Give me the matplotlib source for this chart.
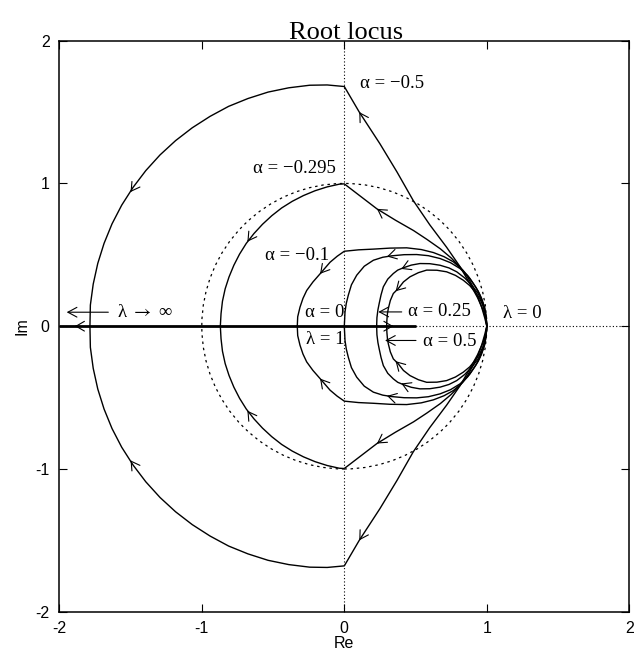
import matplotlib
matplotlib.use("Agg")
import matplotlib.pyplot as plt
from matplotlib.patches import Circle

plt.rcParams["mathtext.fontset"] = "stix"

# ---------------- data (upper half of each locus; lower half is its mirror) -------------
alpha_m05_x = [-1.785, -1.782, -1.762, -1.73, -1.686, -1.63, -1.562, -1.482, -1.393, -1.293, -1.184, -1.067,
               -0.942, -0.812, -0.676, -0.535, -0.39, -0.243, -0.12, 0.0,
               0.105, 0.25, 0.37, 0.484, 0.60, 0.718, 0.81, 0.882, 0.935, 0.975, 0.993, 1.0]
alpha_m05_y = [0.0, 0.148, 0.295, 0.44, 0.58, 0.717, 0.848, 0.973, 1.09, 1.2, 1.3, 1.39,
               1.47, 1.54, 1.595, 1.64, 1.67, 1.688, 1.69, 1.679,
               1.50, 1.278, 1.08, 0.88, 0.71, 0.553, 0.42, 0.297, 0.20, 0.11, 0.05, 0.0]

alpha_m0295_x = [-0.87, -0.865, -0.855, -0.836, -0.809, -0.775, -0.735, -0.688, -0.634, -0.574, -0.509,
                 -0.44, -0.365, -0.287, -0.205, -0.12, -0.035, 0.0,
                 0.229, 0.36, 0.486, 0.58, 0.674, 0.75, 0.814, 0.865, 0.905, 0.94, 0.964, 0.985, 1.0]
alpha_m0295_y = [0.0, 0.088, 0.175, 0.262, 0.345, 0.427, 0.505, 0.58, 0.649, 0.714, 0.774,
                 0.828, 0.875, 0.915, 0.949, 0.976, 0.995, 0.997,
                 0.822, 0.742, 0.670, 0.608, 0.542, 0.478, 0.413, 0.345, 0.273, 0.2, 0.133, 0.06, 0.0]

alpha_m01_x = [-0.33, -0.327, -0.311, -0.29, -0.264, -0.22, -0.17, -0.1, -0.05, 0.0,
               0.1, 0.204, 0.32, 0.438, 0.54, 0.625, 0.70, 0.765, 0.83, 0.882, 0.925, 0.952, 0.975,
               0.987, 0.996, 1.0]
alpha_m01_y = [0.0, 0.066, 0.133, 0.195, 0.25, 0.31, 0.367, 0.448, 0.49, 0.525,
               0.535, 0.54, 0.547, 0.549, 0.537, 0.516, 0.487, 0.451, 0.395, 0.334, 0.27, 0.217, 0.155,
               0.10, 0.05, 0.0]

alpha_0_x = [0.0, 0.005, 0.014, 0.028, 0.05, 0.087, 0.14, 0.204, 0.27, 0.333, 0.42, 0.508, 0.59,
             0.672, 0.745, 0.812, 0.865, 0.905, 0.94, 0.964, 0.983, 0.994, 1.0]
alpha_0_y = [0.0, 0.10, 0.16, 0.217, 0.29, 0.357, 0.42, 0.462, 0.483, 0.493, 0.501, 0.502, 0.494,
             0.474, 0.445, 0.404, 0.355, 0.299, 0.245, 0.194, 0.135, 0.077, 0.0]

alpha_025_x = [0.227, 0.229, 0.236, 0.245, 0.258, 0.274, 0.305, 0.344, 0.375, 0.414, 0.47, 0.531, 0.60,
               0.672, 0.735, 0.789, 0.845, 0.894, 0.935, 0.964, 0.985, 0.996, 1.0]
alpha_025_y = [0.0, 0.06, 0.115, 0.16, 0.22, 0.276, 0.33, 0.369, 0.393, 0.409, 0.428, 0.439, 0.438,
               0.427, 0.408, 0.381, 0.338, 0.287, 0.235, 0.182, 0.13, 0.06, 0.0]

alpha_05_x = [0.297, 0.299, 0.303, 0.309, 0.323, 0.344, 0.379, 0.415, 0.461, 0.52, 0.578, 0.65,
              0.718, 0.78, 0.835, 0.88, 0.917, 0.95, 0.971, 0.985, 0.996, 1.0]
alpha_05_y = [0.0, 0.045, 0.09, 0.124, 0.18, 0.229, 0.264, 0.31, 0.346, 0.375, 0.393, 0.392,
              0.381, 0.356, 0.322, 0.285, 0.241, 0.195, 0.147, 0.1, 0.05, 0.0]

loci = [(alpha_m05_x, alpha_m05_y), (alpha_m0295_x, alpha_m0295_y), (alpha_m01_x, alpha_m01_y),
        (alpha_0_x, alpha_0_y), (alpha_025_x, alpha_025_y), (alpha_05_x, alpha_05_y)]

# real-axis part of the locus
real_axis_x = [-2.0, 0.5]
real_axis_y = [0.0, 0.0]

unit_circle_radius = 1.0

# direction arrows on the upper-half branches: tip x, tip y, dir x, dir y
arrow_x = [0.105, -1.50, 0.229, -0.68, -0.17, 0.30, 0.40, 0.36]
arrow_y = [1.50, 0.94, 0.822, 0.592, 0.367, 0.488, 0.401, 0.245]
arrow_dx = [-0.53, -0.57, -0.83, -0.57, -0.64, -0.97, -0.92, -0.70]
arrow_dy = [0.85, -0.82, 0.56, -0.82, -0.77, -0.25, -0.40, -0.71]
# arrows on the real axis
raxis_arrow_x = [0.344, -1.89]
raxis_arrow_dx = [1.0, -1.0]

# labels: text, x, y, ha
label_text = ["α = −0.5", "α = −0.295", "α = −0.1", "α = 0", "λ = 1",
              "α = 0.25", "α = 0.5", "λ = 0", "λ $\\rightarrow$ ∞"]
label_x = [0.11, -0.058, -0.105, 0.0, 0.0, 0.449, 0.55, 1.116, -1.593]
label_y = [1.698, 1.103, 0.495, 0.098, -0.095, 0.10, -0.105, 0.091, 0.098]
label_ha = ["left", "right", "right", "right", "right", "left", "left", "left", "left"]

# pointer arrows attached to labels: from (x0,y) to (x1,y)
pointer_x0 = [0.403, 0.503, -1.656]
pointer_x1 = [0.239, 0.286, -1.948]
pointer_y = [0.10, -0.10, 0.098]

ticks = [-2, -1, 0, 1, 2]
tick_labels = ["-2", "-1", "0", "1", "2"]

# ---------------- figure ----------------
fig = plt.figure(figsize=(6.42, 6.54), dpi=100)
ax = fig.add_axes([59.3 / 642, (654 - 611.7) / 654, 570 / 642, 571 / 654])

serif = ["Liberation Serif", "DejaVu Serif"]
sans = ["Liberation Sans", "DejaVu Sans"]

ax.axhline(0, color="black", lw=0.8, ls=(0, (1, 2)), zorder=1)
ax.axvline(0, color="black", lw=0.8, ls=(0, (1, 2)), zorder=1)
ax.add_patch(Circle((0, 0), unit_circle_radius, fill=False, ec="black", lw=0.9,
                    ls=(0, (2, 3)), zorder=1))

for xs, ys in loci:
    ax.plot(xs, ys, color="black", lw=1.0, zorder=2)
    ax.plot(xs, [-v for v in ys], color="black", lw=1.0, zorder=2)

ax.plot(real_axis_x, real_axis_y, color="black", lw=2.0, zorder=3, solid_capstyle="butt")

chev = dict(arrowstyle="->,head_length=0.6,head_width=0.35", lw=0.8, color="black",
            shrinkA=0, shrinkB=0, mutation_scale=10)
eps = 0.012
for sgn in (1, -1):
    for x, y, dx, dy in zip(arrow_x, arrow_y, arrow_dx, arrow_dy):
        ax.annotate("", xy=(x, sgn * y), xytext=(x - eps * dx, sgn * (y - eps * dy)),
                    arrowprops=chev, zorder=4)
for x, dx in zip(raxis_arrow_x, raxis_arrow_dx):
    ax.annotate("", xy=(x, 0), xytext=(x - eps * dx, 0), arrowprops=chev, zorder=4)

ptr = dict(arrowstyle="->,head_length=0.65,head_width=0.35", lw=0.8, color="black",
           shrinkA=0, shrinkB=0, mutation_scale=10)
for x0, x1, y in zip(pointer_x0, pointer_x1, pointer_y):
    ax.annotate("", xy=(x1, y), xytext=(x0, y), arrowprops=ptr, zorder=4)

for t, x, y, ha in zip(label_text, label_x, label_y, label_ha):
    ax.text(x, y, t, ha=ha, va="center", fontsize=13.5, family=serif, zorder=5)

ax.set_xlim(-2, 2)
ax.set_ylim(-2, 2)
ax.set_xticks(ticks)
ax.set_xticklabels(tick_labels, family=sans)
ax.set_yticks(ticks)
ax.set_yticklabels(tick_labels, family=sans)
ax.tick_params(direction="in", top=True, right=True, length=6, width=0.8,
               labelsize=11.5, pad=7)
for s in ax.spines.values():
    s.set_linewidth(1.1)

ax.set_xlabel("Re", family=sans, fontsize=11.5, labelpad=0)
ax.set_ylabel("Im", family=sans, fontsize=11.5, labelpad=4)

fig.text(ax.get_position().x0 + ax.get_position().width * (346 - 59.3) / 570,
         (654 - 38.8) / 654, "Root locus", ha="center", va="baseline",
         fontsize=19, family=serif)

fig.savefig("out.png", dpi=100)
